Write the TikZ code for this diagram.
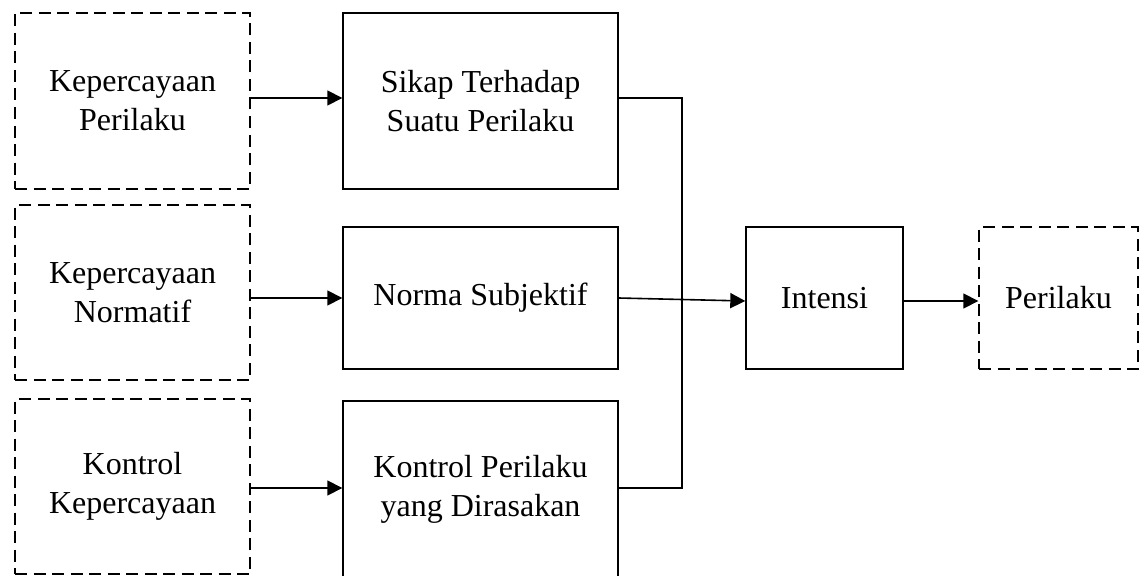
\documentclass[tikz,border=0pt]{standalone}
\usepackage{fontspec}
\setmainfont{Liberation Serif}
\usetikzlibrary{arrows.meta,calc}
\begin{document}
\begin{tikzpicture}[x=1pt,y=-1pt,
  box/.style={draw, line width=1.4pt, inner sep=0pt, align=center,
    font=\fontsize{32}{39}\selectfont},
  dbox/.style={box, dash pattern=on 12pt off 6.5pt},
  conn/.style={line width=1.6pt},
  arr/.style={conn, -{Triangle[length=15pt,width=15pt]}}]
\useasboundingbox (0,0) rectangle (1147,575);
% left dashed boxes
\node[dbox, minimum width=235pt, minimum height=176pt] (kp) at (132.5,101) {Kepercayaan\\Perilaku};
\node[dbox, minimum width=235pt, minimum height=175pt] (kn) at (132.5,292.5) {Kepercayaan\\Normatif};
\node[dbox, minimum width=235pt, minimum height=175pt] (kk) at (132.5,486.5) {Kontrol\\Kepercayaan};
% middle boxes
\node[box, minimum width=275pt, minimum height=176pt] (st) at (480.5,101) {Sikap Terhadap\\Suatu Perilaku};
\node[box, minimum width=275pt, minimum height=142pt] (ns) at (480.5,298) {Norma Subjektif};
\node[box, minimum width=275pt, minimum height=176pt] (kpd) at (480.5,489) {Kontrol Perilaku\\yang Dirasakan};
% right boxes
\node[box, minimum width=157pt, minimum height=142pt] (in) at (824.5,298) {Intensi};
\node[dbox, minimum width=159pt, minimum height=142pt] (pe) at (1058.5,298) {Perilaku};
% junction
\coordinate (j1) at (682,98);
\coordinate (j3) at (682,488);
% arrows
\draw[arr] (kp.east |- j1) -- (st.west |- j1);
\draw[arr] (kn.east |- ns.west) -- (ns.west);
\draw[arr] (kk.east |- j3) -- (kpd.west |- j3);
\draw[conn] (st.east |- j1) -- (j1) -- (j3) -- (kpd.east |- j3);
\draw[arr] (ns.east) -- ($(in.west)+(0,3)$);
\draw[arr] ($(in.east)+(0,3)$) -- ($(pe.west)+(0,3)$);
\end{tikzpicture}
\end{document}
